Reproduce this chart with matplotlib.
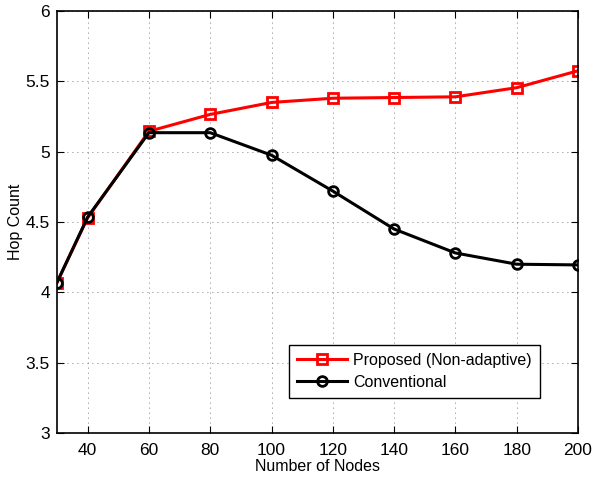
import matplotlib
matplotlib.use("Agg")
import matplotlib.pyplot as plt

plt.rcParams['font.family'] = ['Liberation Sans', 'DejaVu Sans']

nodes = [30, 40, 60, 80, 100, 120, 140, 160, 180, 200]
proposed = [4.07, 4.53, 5.145, 5.265, 5.35, 5.38, 5.385, 5.39, 5.455, 5.575]
conventional = [4.07, 4.535, 5.135, 5.135, 4.975, 4.72, 4.45, 4.28, 4.2, 4.195]

fig = plt.figure(figsize=(5.93, 4.79), dpi=100)
ax = fig.add_axes([0.0961, 0.096, 0.8786, 0.881])

ax.plot(nodes, proposed, color='red', lw=2.2, marker='s', ms=6.5, mfc='none',
        mew=2, label='Proposed (Non-adaptive)')
ax.plot(nodes, conventional, color='black', lw=2.2, marker='o', ms=7, mfc='none',
        mew=2, label='Conventional')

ax.set_xlim(30, 200)
ax.set_ylim(3, 6)
ax.set_xticks(range(40, 201, 20))
ax.set_yticks([3, 3.5, 4, 4.5, 5, 5.5, 6])
ax.set_yticklabels(['3', '3.5', '4', '4.5', '5', '5.5', '6'])
ax.grid(True, linestyle=(0, (1, 5)), color='#555555', lw=0.6)
ax.tick_params(direction='in', top=True, right=True, labelsize=12.5, length=5)
ax.tick_params(axis='x', pad=7)
ax.tick_params(axis='y', pad=5)
for s in ax.spines.values():
    s.set_linewidth(1.2)

ax.set_xlabel('Number of Nodes', fontsize=11.5, labelpad=1)
ax.set_ylabel('Hop Count', fontsize=11.5, labelpad=2)

leg = ax.legend(loc='lower right', bbox_to_anchor=(0.927, 0.083), fontsize=11.5,
                fancybox=False, edgecolor='black', framealpha=1,
                handlelength=3.1, borderpad=0.5, labelspacing=0.45,
                handletextpad=0.4, borderaxespad=0)
leg.get_frame().set_linewidth(1.0)

fig.savefig('out.png', dpi=100)
